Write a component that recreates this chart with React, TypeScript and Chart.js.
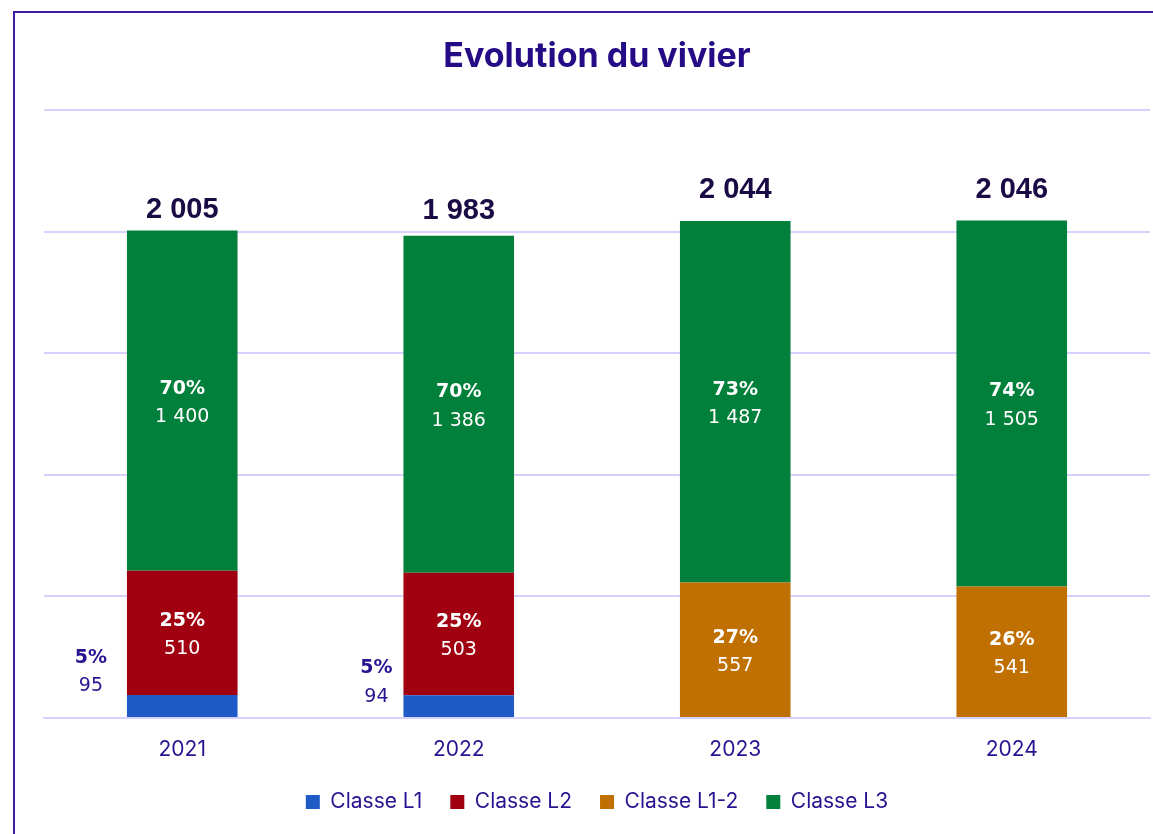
import React, { useEffect, useRef } from "react";
import { Chart, registerables } from "chart.js";

Chart.register(...registerables);

const categories = ["2021", "2022", "2023", "2024"];
const classeL1 = [95, 94, null, null];
const classeL2 = [510, 503, null, null];
const classeL12 = [null, null, 557, 541];
const classeL3 = [1400, 1386, 1487, 1505];
const seriesNames = ["Classe L1", "Classe L2", "Classe L1-2", "Classe L3"];

const PURPLE = "#2A1290";
const TITLE = "#250B86";
const DARK = "#1A0B45";
const GRID = "#D8D0FF";

// label placement tweaks (relative offsets, as placed in the original)
const totalLift = [-20, -25, -31, -30];
const l1Shift = [
  [-36, -36],
  [-27, -26],
];

const fmt = (n: number) => String(n).replace(/\B(?=(\d{3})+(?!\d))/g, " ");

const allSeries = [classeL1, classeL2, classeL12, classeL3];
const totals = categories.map((_, i) =>
  allSeries.reduce((s, arr) => s + (arr[i] ?? 0), 0)
);

const labelPlugin = {
  id: "segLabels",
  afterDatasetsDraw(chart: any) {
    const ctx = chart.ctx;
    ctx.save();
    ctx.textAlign = "center";
    ctx.textBaseline = "middle";
    const tops: number[] = categories.map(() => Infinity);
    chart.data.datasets.forEach((ds: any, di: number) => {
      const meta = chart.getDatasetMeta(di);
      meta.data.forEach((el: any, i: number) => {
        const v = ds.data[i];
        if (v == null) return;
        const { x, y, base, width } = el.getProps(["x", "y", "base", "width"], true);
        tops[i] = Math.min(tops[i], y);
        const pct = Math.round((v / totals[i]) * 100) + "%";
        let cx = x;
        let cy = (y + base) / 2;
        let color = "#ffffff";
        if (di === 0) {
          const s = l1Shift[i] || [-31, -31];
          cx = x - width / 2 + s[0];
          cy = cy + s[1];
          color = PURPLE;
        }
        ctx.fillStyle = color;
        ctx.font = 'bold 19px "DejaVu Sans", sans-serif';
        ctx.fillText(pct, cx, cy - 12);
        ctx.font = '19px "DejaVu Sans", sans-serif';
        ctx.fillText(fmt(v), cx, cy + 16.5);
      });
    });
    const meta0 = chart.getDatasetMeta(3);
    meta0.data.forEach((el: any, i: number) => {
      ctx.fillStyle = DARK;
      ctx.font = 'bold 29px "Liberation Sans", Arial, sans-serif';
      ctx.fillText(fmt(totals[i]), el.x, tops[i] + totalLift[i]);
    });
    ctx.restore();
  },
};

export default function App() {
  const ref = useRef<HTMLCanvasElement>(null);
  useEffect(() => {
    if (!ref.current) return;
    const colors = ["#1F5BC6", "#A0000F", "#C07000", "#00803A"];
    const chart = new Chart(ref.current, {
      type: "bar",
      data: {
        labels: categories,
        datasets: allSeries.map((d, k) => ({
          label: seriesNames[k],
          data: d as any,
          backgroundColor: colors[k],
          borderWidth: 0,
          barPercentage: 0.4,
          categoryPercentage: 1,
        })),
      },
      options: {
        responsive: false,
        animation: false,
        layout: { padding: { top: 0, left: 44, right: 3, bottom: 11.5 } },
        plugins: {
          title: {
            display: true,
            text: "Evolution du vivier",
            color: TITLE,
            font: { family: "Inter", size: 34, weight: "bold" },
            padding: { top: 36.6, bottom: 32.6 },
          },
          legend: {
            position: "bottom",
            labels: {
              boxWidth: 14,
              boxHeight: 14,
              padding: 28,
              color: PURPLE,
              font: { family: "Inter", size: 21 },
            },
          },
          tooltip: { enabled: false },
        },
        scales: {
          x: {
            stacked: true,
            grid: { display: false, drawTicks: false },
            border: { display: true, color: GRID, width: 2 },
            ticks: {
              color: PURPLE,
              padding: 19,
              font: { family: "Inter", size: 21, lineHeight: 1.2 },
            },
            afterFit: (scale: any) => {
              scale.height = 45.5;
            },
          },
          y: {
            stacked: true,
            min: 0,
            max: 2500,
            ticks: { display: false, stepSize: 500 },
            grid: { color: GRID, lineWidth: 2, drawTicks: false },
            border: { display: false },
          },
        },
      },
      plugins: [labelPlugin],
    });
    return () => chart.destroy();
  }, []);

  return (
    <div
      style={{
        position: "fixed",
        left: 0,
        top: 0,
        width: 1153,
        height: 834,
        overflow: "hidden",
        background: "#ffffff",
      }}
    >
      <div
        style={{
          position: "absolute",
          left: 13,
          top: 11,
          width: 1300,
          height: 1000,
          borderLeft: "2px solid #3A1C9C",
          borderTop: "2px solid #3A1C9C",
        }}
      />
      <canvas
        ref={ref}
        width={1153}
        height={834}
        style={{ position: "absolute", left: 0, top: 0, display: "block" }}
      />
    </div>
  );
}
